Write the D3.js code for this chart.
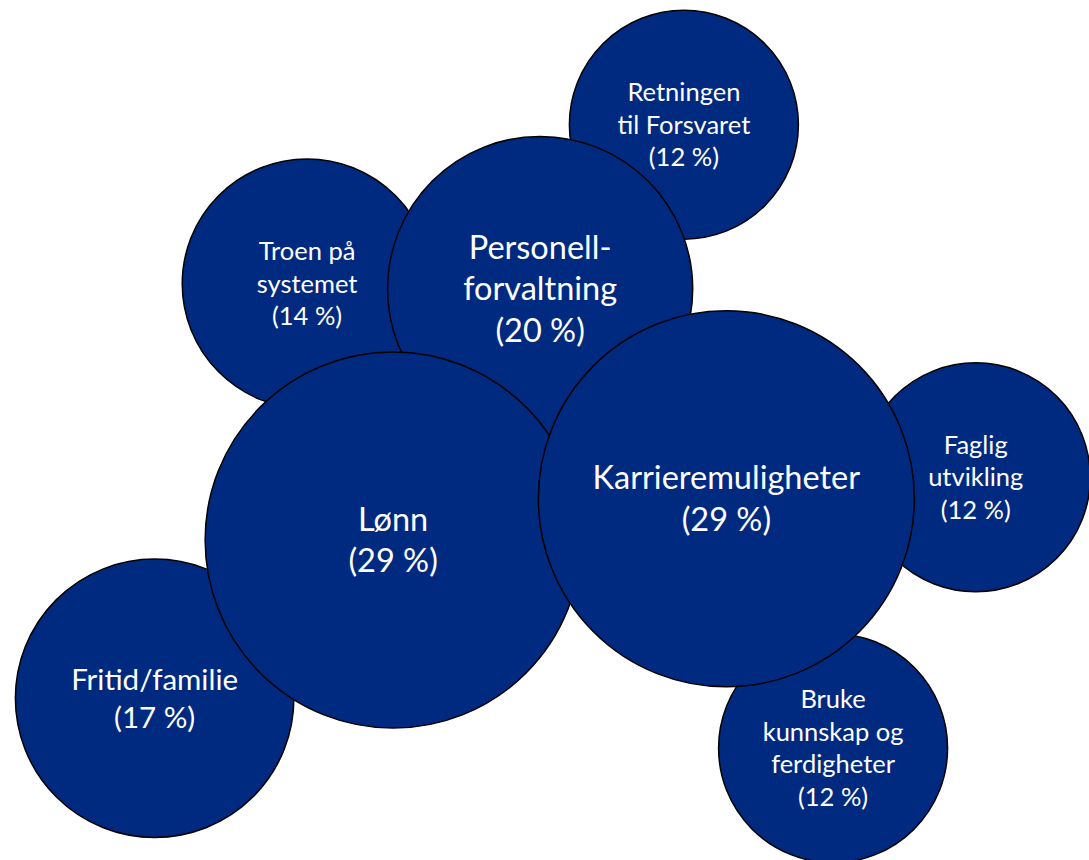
<!DOCTYPE html>
<html><head><meta charset="utf-8">
<script src="https://cdn.jsdelivr.net/npm/d3@7"></script>
<style>html,body{margin:0;padding:0;background:#fff;} svg{display:block}</style>
</head><body><svg id="chart" width="1089" height="860"></svg>
<script>
// Data (drawing order: back to front)
const categories = ["Troen på systemet", "Retningen til Forsvaret", "Personellforvaltning", "Fritid/familie", "Lønn", "Faglig utvikling", "Bruke kunnskap og ferdigheter", "Karrieremuligheter"];
const labelLines = [["Troen på", "systemet"], ["Retningen", "til Forsvaret"], ["Personell-", "forvaltning"], ["Fritid/familie"], ["Lønn"], ["Faglig", "utvikling"], ["Bruke", "kunnskap og", "ferdigheter"], ["Karrieremuligheter"]];
const values = [14, 12, 20, 17, 29, 12, 12, 29];
// bubble layout coordinates (abstract 0-100 units, y upward)
const layoutX = [28.2, 62.8, 49.6, 14.2, 36.1, 89.6, 76.5, 66.7];
const layoutY = [67.0, 85.5, 66.4, 18.8, 37.2, 44.5, 13.0, 42.0];

const W = 1089, H = 860;
const svg = d3.select("#chart");
const x = d3.scaleLinear().domain([0, 100]).range([0, W]);
const y = d3.scaleLinear().domain([0, 100]).range([H, 0]);
const r = d3.scalePow().exponent(0.562).domain([0, 29]).range([0, 188]);
const fontSize = d3.scaleThreshold().domain([15, 19]).range([25.5, 29.5, 32.5]);

const data = categories.map((c, i) => ({
  name: c, lines: labelLines[i].concat([`(${values[i]} %)`]),
  value: values[i], x: layoutX[i], y: layoutY[i]
}));

const g = svg.selectAll("g.bubble").data(data).join("g").attr("class", "bubble");
g.append("circle")
  .attr("cx", d => x(d.x)).attr("cy", d => y(d.y)).attr("r", d => r(d.value))
  .attr("fill", "#002A80").attr("stroke", "#000").attr("stroke-width", 1.5);

g.each(function(d) {
  const fs = fontSize(d.value), lh = fs * 1.28, n = d.lines.length;
  const t = d3.select(this).append("text")
    .attr("text-anchor", "middle")
    .attr("fill", "#fff")
    .attr("font-family", "Lato, 'Open Sans', sans-serif")
    .attr("font-size", fs);
  t.selectAll("tspan").data(d.lines).join("tspan")
    .attr("x", x(d.x))
    .attr("y", (l, i) => y(d.y) + (i - (n - 1) / 2) * lh + 0.35 * fs)
    .text(l => l);
});
</script></body></html>
